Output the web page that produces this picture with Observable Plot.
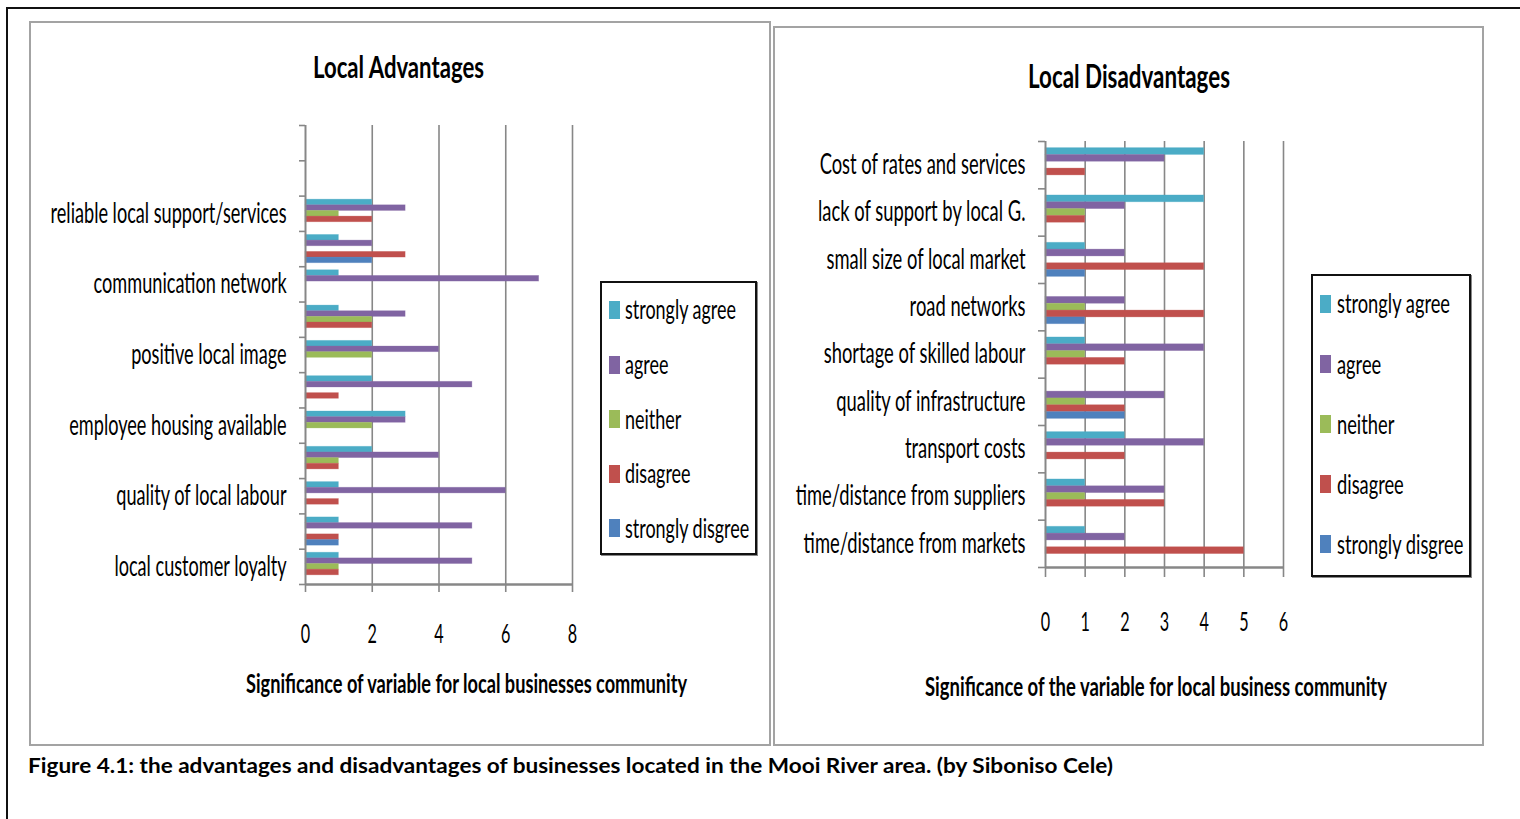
<!DOCTYPE html>
<html>
<head>
<meta charset="utf-8">
<script src="https://cdn.jsdelivr.net/npm/d3@7"></script>
<script src="https://cdn.jsdelivr.net/npm/@observablehq/plot@0.6"></script>
<style>
  html, body { margin: 0; padding: 0; background: #fff; }
  body { width: 1520px; height: 819px; position: relative; overflow: hidden; }
  .box { position: absolute; box-sizing: border-box; }
  .txt { position: absolute; white-space: nowrap; line-height: 1; transform-origin: 0 50%; color: #000; }
  .chart { position: absolute; }
</style>
</head>
<body>
<script>
// ---- response categories shared by both panels ----
const seriesNames = ["strongly agree", "agree", "neither", "disagree", "strongly disgree"];
const seriesColors = ["#4BACC6", "#8064A2", "#9BBB59", "#C0504D", "#4F81BD"];

// ---- Local Advantages (rows top to bottom; only every second row is labelled) ----
const advLabels = [null, null, "reliable local support/services", null, "communication network", null,
  "positive local image", null, "employee housing available", null, "quality of local labour", null,
  "local customer loyalty"];
const advStronglyAgree    = [0, 0, 2, 1, 1, 1, 2, 2, 3, 2, 1, 1, 1];
const advAgree            = [0, 0, 3, 2, 7, 3, 4, 5, 3, 4, 6, 5, 5];
const advNeither          = [0, 0, 1, 0, 0, 2, 2, 0, 2, 1, 0, 0, 1];
const advDisagree         = [0, 0, 2, 3, 0, 2, 0, 1, 0, 1, 1, 1, 1];
const advStronglyDisagree = [0, 0, 0, 2, 0, 0, 0, 0, 0, 0, 0, 1, 0];
const advTicks = [0, 2, 4, 6, 8];

// ---- Local Disadvantages (rows top to bottom) ----
const disLabels = ["Cost of rates and services", "lack of support by local G.", "small size of local market",
  "road networks", "shortage of skilled labour", "quality of infrastructure", "transport costs",
  "time/distance from suppliers", "time/distance from markets"];
const disStronglyAgree    = [4, 4, 1, 0, 1, 0, 2, 1, 1];
const disAgree            = [3, 2, 2, 2, 4, 3, 4, 3, 2];
const disNeither          = [0, 1, 0, 1, 1, 1, 0, 1, 0];
const disDisagree         = [1, 1, 4, 4, 2, 2, 2, 3, 5];
const disStronglyDisagree = [0, 0, 1, 1, 0, 2, 0, 0, 0];
const disTicks = [0, 1, 2, 3, 4, 5, 6];

const FONT = 'Lato, "Open Sans", sans-serif';
const AXIS_GRAY = "#878787";
const LABEL_SIZE = 28;

// ---- helpers ----
function addBox(left, top, width, height, style) {
  const d = document.createElement("div");
  d.className = "box";
  Object.assign(d.style, {left: left + "px", top: top + "px", width: width + "px", height: height + "px"}, style);
  document.body.appendChild(d);
  return d;
}

// Places a line of text centred vertically on cy, squeezed horizontally to a width or by a factor.
function addText(str, {x, cx, cy, width, scale, size, weight = 400, family = FONT}) {
  const el = document.createElement("div");
  el.className = "txt";
  el.textContent = str;
  Object.assign(el.style, {fontSize: size + "px", fontWeight: weight, fontFamily: family});
  document.body.appendChild(el);
  const w0 = el.getBoundingClientRect().width;
  const s = scale ?? (width ? width / w0 : 1);
  const w = w0 * s;
  const left = x ?? cx - w / 2;
  el.style.left = left + "px";
  el.style.top = (cy - size * 0.52) + "px";
  el.style.transform = `scaleX(${s})`;
  return s;
}

// Narrows the SVG texts about their own anchor point (condensed lettering).
function squeezeTexts(svg, labelScale, digitScale) {
  svg.querySelectorAll("text").forEach(t => {
    if (!t.textContent) return;
    const s = /^\d+$/.test(t.textContent.trim()) ? digitScale : labelScale;
    const b = t.getBBox();
    const anchor = getComputedStyle(t).textAnchor;
    const ax = anchor === "end" ? b.x + b.width : anchor === "middle" ? b.x + b.width / 2 : b.x;
    const tr = t.getAttribute("transform") || "";
    t.setAttribute("transform", `${tr} translate(${ax},0) scale(${s},1) translate(${-ax},0)`);
  });
}

function measure(str, size) {
  const c = document.createElement("canvas").getContext("2d");
  c.font = `${size}px ${FONT}`;
  return c.measureText(str).width;
}

// Grouped horizontal bars: each category row holds five thin bars, one per response.
function groupedBars({labels, series, ticks, barFrac, width, height, margin, tickLen, tickPad, labelGap}) {
  const n = labels.length;
  const pad = (1 - series.length * barFrac) / 2;
  const rows = [];
  series.forEach((values, k) => values.forEach((v, r) => {
    rows.push({
      series: seriesNames[k],
      value: v,
      y2: n - r - pad - k * barFrac,
      y1: n - r - pad - (k + 1) * barFrac
    });
  }));
  const maxX = ticks[ticks.length - 1];
  return Plot.plot({
    width, height,
    marginLeft: margin[3], marginRight: margin[1], marginTop: margin[0], marginBottom: margin[2],
    x: {domain: [0, maxX], label: null},
    y: {domain: [0, n], label: null},
    color: {domain: seriesNames, range: seriesColors},
    style: {fontFamily: FONT, background: "transparent", overflow: "visible", color: "#000"},
    marks: [
      Plot.gridX(ticks.filter(t => t > 0), {stroke: AXIS_GRAY, strokeOpacity: 1, strokeWidth: 1.6}),
      Plot.rect(rows.filter(d => d.value > 0), {
        x1: () => 0, x2: "value", y1: "y1", y2: "y2",
        fill: "series", stroke: "series", strokeOpacity: 0.35, strokeWidth: 0.8
      }),
      // category boundary ticks on the vertical axis
      Plot.axisY(d3.range(n + 1), {tickSize: tickLen[0], tickFormat: () => "", stroke: AXIS_GRAY, strokeWidth: 1.6}),
      // category names, centred on each row
      Plot.axisY(d3.range(n).map(r => n - r - 0.5), {
        tickSize: 0, tickPadding: labelGap, fontSize: LABEL_SIZE,
        tickFormat: y => labels[Math.round(n - 0.5 - y)] ?? ""
      }),
      Plot.axisX(ticks, {tickSize: tickLen[1], tickFormat: () => "", stroke: AXIS_GRAY, strokeWidth: 1.6}),
      Plot.axisX(ticks, {tickSize: 0, tickPadding: tickPad, fontSize: 27}),
      Plot.ruleX([0], {stroke: AXIS_GRAY, strokeWidth: 2}),
      Plot.ruleY([0], {stroke: AXIS_GRAY, strokeWidth: 2.6})
    ]
  });
}

function legend({x, swatchX, firstY, step, width}) {
  let s;
  seriesNames.forEach((name, i) => {
    const cy = firstY + i * step;
    addBox(swatchX, cy - 9, 11, 18, {background: seriesColors[i]});
    s = addText(name, {x, cy, size: 26, width: i === 0 ? width : undefined, scale: i === 0 ? undefined : s});
  });
}

// ---- page frames ----
addBox(6, 7, 2000, 2000, {border: "2px solid #111"});
addBox(29, 21, 742, 725, {border: "2px solid #a3a3a3"});
addBox(773, 26, 711, 720, {border: "2px solid #a3a3a3"});

// ---- left panel: Local Advantages ----
addText("Local Advantages", {cx: 398.5, cy: 67, width: 171, size: 31, weight: 700});
const left = groupedBars({
  labels: advLabels,
  series: [advStronglyAgree, advAgree, advNeither, advDisagree, advStronglyDisagree],
  ticks: advTicks, barFrac: 0.16,
  width: 560, height: 620, margin: [25, 28, 136, 265],
  tickLen: [6, 8], tickPad: 39, labelGap: 19
});
left.classList.add("chart");
Object.assign(left.style, {left: "40px", top: "100px"});
document.body.appendChild(left);
squeezeTexts(left, 236 / measure("reliable local support/services", LABEL_SIZE), 0.6);
addText("Significance  of variable for local businesses community", {cx: 466.5, cy: 684, width: 441, size: 26, weight: 700});
addBox(600, 281, 157, 274, {border: "2px solid #111", boxShadow: "1px 1px 0 #888", background: "#fff"});
legend({x: 625, swatchX: 609, firstY: 310, step: 54.6, width: 111});

// ---- right panel: Local Disadvantages ----
addText("Local Disadvantages", {cx: 1129, cy: 77, width: 202, size: 32, weight: 700});
const right = groupedBars({
  labels: disLabels,
  series: [disStronglyAgree, disAgree, disNeither, disDisagree, disStronglyDisagree],
  ticks: disTicks, barFrac: 0.144,
  width: 510, height: 600, margin: [21, 17, 153, 255],
  tickLen: [7, 10], tickPad: 44, labelGap: 20
});
right.classList.add("chart");
Object.assign(right.style, {left: "790px", top: "120px"});
document.body.appendChild(right);
squeezeTexts(right, 230 / measure("time/distance from suppliers", LABEL_SIZE), 0.6);
addText("Significance  of the variable  for local  business community", {cx: 1156, cy: 687, width: 462, size: 26, weight: 700});
addBox(1311, 274, 160, 303, {border: "2px solid #111", boxShadow: "1px 1px 0 #888", background: "#fff"});
legend({x: 1336.5, swatchX: 1320, firstY: 304, step: 60.1, width: 113});

// ---- caption ----
addText("Figure 4.1: the advantages and disadvantages of businesses located in the Mooi River area. (by Siboniso Cele)",
  {x: 28, cy: 765, width: 1085, size: 20, weight: 700});
</script>
</body>
</html>
